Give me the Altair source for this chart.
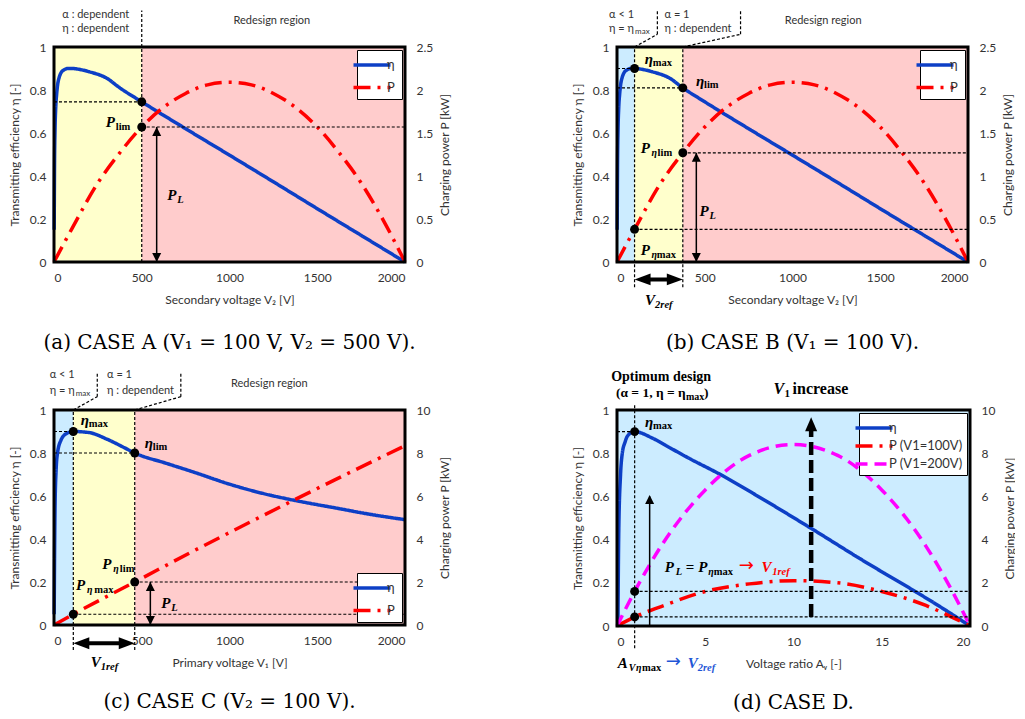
import altair as alt
import pandas as pd

# ---------------- colours / fonts ----------------
BLUE = "#0D3FC6"
RED = "#FF0000"
MAG = "#FF00FF"
PINK = "#FFCCCC"
YEL = "#FFFFCC"
LBLUE = "#CCECFF"
TXT = "#333333"
TBLUE = "#1F56D6"
SANS = "Lato"
SERIF = "Liberation Serif"
CAPFONT = "DejaVu Serif"

# ---------------- data ----------------
# CASE A / B : V1 = 100 V, secondary voltage V2 swept
V2_ETA = [1, 3, 6, 10, 15, 20, 30, 40, 60, 80, 100, 150, 200, 300, 375, 500, 750, 1000, 1250, 1500, 1750, 2000]
ETA_V2 = [0.15, 0.45, 0.62, 0.72, 0.78, 0.82, 0.86, 0.88, 0.895, 0.9, 0.9, 0.895, 0.885, 0.855, 0.81, 0.745,
          0.62, 0.497, 0.373, 0.248, 0.124, 0.0]
V2_P = [0, 100, 250, 375, 500, 625, 750, 875, 1000, 1125, 1250, 1375, 1500, 1625, 1750, 1875, 2000]
P_V2 = [0, 0.38, 0.92, 1.27, 1.57, 1.80, 1.96, 2.06, 2.09, 2.06, 1.96, 1.80, 1.57, 1.27, 0.92, 0.49, 0]

# CASE C : V2 = 100 V, primary voltage V1 swept
V1_ETA = [1, 3, 6, 12, 20, 40, 70, 110, 200, 300, 400, 460, 640, 800, 1000, 1200, 1400, 1600, 1800, 2000]
ETA_V1 = [0.05, 0.3, 0.55, 0.72, 0.8, 0.86, 0.89, 0.9, 0.895, 0.865, 0.825, 0.80, 0.752, 0.71, 0.655,
          0.61, 0.575, 0.545, 0.515, 0.49]
V1_P = [0, 110, 460, 825, 1000, 1367, 1600, 2000]
P_V1 = [0, 0.5, 2.0, 3.57, 4.3, 5.81, 6.75, 8.34]

# CASE D : voltage ratio Av swept
AV_ETA = [0.05, 0.1, 0.2, 0.3, 0.45, 0.6, 1.0, 2.0, 3.0, 4.0, 6.0, 8.0, 11.0, 14.0, 16.75, 18.0, 20.0]
ETA_AV = [0.0, 0.44, 0.7, 0.8, 0.85, 0.88, 0.9, 0.87, 0.825, 0.78, 0.695, 0.6, 0.452, 0.3, 0.167, 0.105, 0.0]
AV_P = [0, 1, 2.5, 5, 7.5, 10, 12.5, 15, 17.5, 19, 20]
P_100 = [0, 0.42, 0.9, 1.6, 1.95, 2.1, 2.0, 1.6, 0.95, 0.4, 0]
P_200 = [0, 1.6, 3.7, 6.3, 7.9, 8.4, 7.9, 6.3, 3.7, 1.6, 0]

# marked operating points
A_PT = (500, 0.745, 1.57)                  # V2, eta, P
B_PTS = [(100, 0.9, 0.38), (375, 0.81, 1.27)]
C_PTS = [(110, 0.9, 0.5), (460, 0.8, 2.0)]
D_PT = (1, 0.9, 0.42, 1.6)                 # Av, eta, P(100V), P(200V)

CAPTIONS = ["(a) CASE A (V₁ = 100 V, V₂ = 500 V).", "(b) CASE B (V₁ = 100 V).",
            "(c) CASE C (V₂ = 100 V).", "(d) CASE D."]

ETA_DOM = [0, 1]
W, H = 351, 215

UP = "M0,0L-0.5,1L0.5,1Z"
DOWN = "M0,0L-0.5,-1L0.5,-1Z"
LEFT = "M0,0L1,-0.37L1,0.37Z"
RIGHT = "M0,0L-1,-0.37L-1,0.37Z"
UPBIG = "M0,0L-0.43,1L0.43,1Z"
LEG_SYM = "M-2,0L2,0"

CUR = {"xaxis": None}


def X(field, dom):
    return alt.X(f"{field}:Q", scale=alt.Scale(domain=dom, nice=False, zero=False), axis=CUR["xaxis"])


def Y(field, dom, axis=None):
    return alt.Y(f"{field}:Q", scale=alt.Scale(domain=dom, nice=False, zero=False), axis=axis)


def left_axis():
    return alt.Axis(orient="left", values=[0, 0.2, 0.4, 0.6, 0.8, 1], format="~r",
                    title="Transmitting efficiency η [-]", labelPadding=8, titlePadding=8)


def right_axis(vals, h=H):
    return alt.Axis(orient="right", values=vals, format="~r", title="Charging power P [kW]",
                    labelPadding=11, titleAngle=270, titleX=39, titleY=h / 2,
                    titleAlign="center", titleBaseline="middle")


def bottom_axis(vals, title):
    return alt.Axis(orient="bottom", values=vals, format="~r", title=title, labelPadding=10, titlePadding=11)


def background(regions, xdom):
    df = pd.DataFrame(regions, columns=["x", "x2", "c"])
    df["y"] = 0
    df["y2"] = 1
    return alt.Chart(df).mark_rect(opacity=1, strokeWidth=0).encode(
        x=X("x", xdom), x2="x2:Q", y=Y("y", ETA_DOM), y2="y2:Q",
        color=alt.Color("c:N", scale=None))


def frame(xdom):
    df = pd.DataFrame({"x": [xdom[0]], "x2": [xdom[1]], "y": [0], "y2": [1]})
    return alt.Chart(df).mark_rect(fillOpacity=0, stroke="black", strokeWidth=3).encode(
        x=X("x", xdom), x2="x2:Q", y=Y("y", ETA_DOM), y2="y2:Q")


def curves(series, xdom, ydom, names, colors, dashes, legend, yaxis=None):
    rows = []
    for name, xs, ys in series:
        for a, b in zip(xs, ys):
            rows.append({"x": a, "y": b, "s": name})
    df = pd.DataFrame(rows)
    return alt.Chart(df).mark_line(strokeWidth=3.5, interpolate="monotone").encode(
        x=X("x", xdom), y=Y("y", ydom, yaxis),
        color=alt.Color("s:N", scale=alt.Scale(domain=names, range=colors), legend=legend),
        strokeDash=alt.StrokeDash("s:N", scale=alt.Scale(domain=names, range=dashes), legend=legend),
        detail="s:N")


def segs(rows, xdom, ydom, width=1.2, dash=(3, 2), color="black"):
    df = pd.DataFrame(rows, columns=["x", "x2", "y", "y2"])
    kw = dict(color=color, strokeWidth=width)
    if dash:
        kw["strokeDash"] = list(dash)
    return alt.Chart(df).mark_rule(**kw).encode(
        x=X("x", xdom), x2="x2:Q", y=Y("y", ydom), y2="y2:Q")


def dots(pts, xdom, ydom):
    df = pd.DataFrame(pts, columns=["x", "y"])
    return alt.Chart(df).mark_circle(size=80, color="black", opacity=1).encode(
        x=X("x", xdom), y=Y("y", ydom))


def head(x, y, shape, size, xdom, ydom):
    df = pd.DataFrame({"x": [x], "y": [y]})
    return alt.Chart(df).mark_point(shape=shape, size=size, filled=True, color="black",
                                    opacity=1, strokeWidth=0).encode(x=X("x", xdom), y=Y("y", ydom))


def tx(x, y, t, xdom, dx=0, dy=0, size=15, style="normal", weight="bold", color="black",
       font=SERIF, align="left", baseline="alphabetic"):
    df = pd.DataFrame({"x": [x], "y": [y], "t": [t]})
    return alt.Chart(df).mark_text(dx=dx, dy=dy, fontSize=size, fontStyle=style, fontWeight=weight,
                                   color=color, font=font, align=align, baseline=baseline).encode(
        x=X("x", xdom), y=Y("y", ETA_DOM), text="t:N")


def mlabel(x, y, parts, xdom):
    out = []
    for p in parts:
        t, dx, dy, size, style, weight = p[:6]
        c = p[6] if len(p) > 6 else "black"
        f = p[7] if len(p) > 7 else SERIF
        out.append(tx(x, y, t, xdom, dx, dy, size, style, weight, c, f))
    return out


def note(x, y, t, xdom, align="left"):
    return tx(x, y, t, xdom, size=11, weight="normal", color=TXT, font=SANS, align=align, baseline="middle")


def sub_note(x, y, main, sub, dxs, xdom):
    return [tx(x, y, main, xdom, size=11, weight="normal", color=TXT, font=SANS, baseline="middle"),
            tx(x, y, sub, xdom, dx=dxs, dy=3, size=8, weight="normal", color=TXT, font=SANS, baseline="middle")]


def caption(t, xdom, y):
    return tx((xdom[0] + xdom[1]) / 2, y, t, xdom, size=20, weight="normal", font=CAPFONT,
              align="center", baseline="middle")


def P_sub(sub, sub_it=False, eta=False, dxe=10.7, dxs=16.7):
    parts = [("P", 0, 0, 15, "italic", "bold")]
    if eta:
        parts.append(("η", dxe, 3, 10, "italic", "bold"))
        parts.append((sub, dxs, 3, 10.5, "normal", "bold"))
    else:
        parts.append((sub, 10, 3, 10.5, "italic" if sub_it else "normal", "bold"))
    return parts


def eta_sub(sub):
    return [("η", 0, 0, 15, "italic", "bold"), (sub, 8, 2, 10.5, "normal", "bold")]


def legend(orient, rowpad):
    return alt.Legend(orient=orient, title=None, rowPadding=rowpad)


DASH_PD = [17, 7, 3, 7]
NAMES2 = ["η", "P"]
CAP_TOP = -0.377
CAP_BOT = -0.357


# ---------------- panel A ----------------
def panel_a():
    CUR["xaxis"] = bottom_axis([0, 500, 1000, 1500, 2000], "Secondary voltage V₂ [V]")
    xd = [0, 2000]
    pd_ = [0, 2.5]
    lg = legend("top-right", 4.5)
    v, e, p = A_PT
    eta_c = curves([("η", V2_ETA, ETA_V2)], xd, ETA_DOM, NAMES2, [BLUE, RED], [[1, 0], DASH_PD], lg,
                   yaxis=left_axis())
    p_c = curves([("P", V2_P, P_V2)], xd, pd_, NAMES2, [BLUE, RED], [[1, 0], DASH_PD], lg,
                 yaxis=right_axis([0, 0.5, 1, 1.5, 2, 2.5]))
    ann_e = alt.layer(
        segs([(0, v, e, e), (v, v, 0, 1.17)], xd, ETA_DOM),
        dots([(v, e)], xd, ETA_DOM),
        note(238, 1.15, "α : dependent", xd, "center"),
        note(238, 1.084, "η : dependent", xd, "center"),
        note(1241, 1.12, "Redesign region", xd, "center"),
        *mlabel(295, 0.628, P_sub("lim"), xd),
        *mlabel(646, 0.29, P_sub("L", sub_it=True), xd),
        caption(CAPTIONS[0], xd, CAP_TOP),
    )
    ann_p = alt.layer(
        segs([(v, 2000, p, p)], xd, pd_),
        segs([(585, 585, 0, p)], xd, pd_, width=1.5, dash=None),
        dots([(v, p)], xd, pd_),
        head(585, p, UP, 324, xd, pd_),
        head(585, 0, DOWN, 324, xd, pd_),
    )
    bg = background([(0, 500, YEL), (500, 2000, PINK)], xd)
    return alt.layer(bg, eta_c, p_c, ann_e, ann_p, frame(xd)).resolve_scale(y="independent").properties(
        width=W, height=H)


# ---------------- panel B ----------------
def panel_b():
    CUR["xaxis"] = bottom_axis([0, 500, 1000, 1500, 2000], "Secondary voltage V₂ [V]")
    xd = [0, 2000]
    pd_ = [0, 2.5]
    lg = legend("top-right", 4.5)
    (v1, e1, p1), (v2, e2, p2) = B_PTS
    eta_c = curves([("η", V2_ETA, ETA_V2)], xd, ETA_DOM, NAMES2, [BLUE, RED], [[1, 0], DASH_PD], lg,
                   yaxis=left_axis())
    p_c = curves([("P", V2_P, P_V2)], xd, pd_, NAMES2, [BLUE, RED], [[1, 0], DASH_PD], lg,
                 yaxis=right_axis([0, 0.5, 1, 1.5, 2, 2.5]))
    ann_e = alt.layer(
        segs([(0, v1, e1, e1), (0, v2, e2, e2),
              (v1, v1, -0.117, 1.0), (v1, 230, 1.0, 1.059), (230, 230, 1.059, 1.17),
              (v2, v2, -0.117, 1.0), (v2, 704, 1.0, 1.059), (704, 704, 1.059, 1.17)], xd, ETA_DOM),
        segs([(v1 + 40, v2 - 40, -0.081, -0.081)], xd, ETA_DOM, width=4, dash=None),
        head(v1, -0.081, LEFT, 1024, xd, ETA_DOM),
        head(v2, -0.081, RIGHT, 1024, xd, ETA_DOM),
        dots([(v1, e1), (v2, e2)], xd, ETA_DOM),
        note(-45, 1.15, "α < 1", xd),
        *sub_note(-45, 1.084, "η = η", "max", 26, xd),
        note(271, 1.15, "α = 1", xd),
        note(271, 1.084, "η : dependent", xd),
        note(1175, 1.12, "Redesign region", xd, "center"),
        *mlabel(158, 0.92, eta_sub("max"), xd),
        *mlabel(450, 0.818, eta_sub("lim"), xd),
        *mlabel(136, 0.506, P_sub("lim", eta=True), xd),
        *mlabel(470, 0.213, P_sub("L", sub_it=True), xd),
        *mlabel(136, 0.034, P_sub("max", eta=True, dxs=16), xd),
        *mlabel(160, -0.2, [("V", 0, 0, 15, "italic", "bold"), ("2ref", 10, 3, 10.5, "italic", "bold")], xd),
        caption(CAPTIONS[1], xd, CAP_TOP),
    )
    ann_p = alt.layer(
        segs([(v2, 2000, p2, p2), (v1, 2000, p1, p1)], xd, pd_),
        segs([(452, 452, 0, p2)], xd, pd_, width=1.5, dash=None),
        dots([(v1, p1), (v2, p2)], xd, pd_),
        head(452, p2, UP, 324, xd, pd_),
        head(452, 0, DOWN, 324, xd, pd_),
    )
    bg = background([(0, v1, LBLUE), (v1, v2, YEL), (v2, 2000, PINK)], xd)
    return alt.layer(bg, eta_c, p_c, ann_e, ann_p, frame(xd)).resolve_scale(y="independent").properties(
        width=W, height=H)


# ---------------- panel C ----------------
def panel_c():
    CUR["xaxis"] = bottom_axis([0, 500, 1000, 1500, 2000], "Primary voltage V₁ [V]")
    xd = [0, 2000]
    pd_ = [0, 10]
    lg = legend("bottom-right", 4.5)
    (v1, e1, p1), (v2, e2, p2) = C_PTS
    eta_c = curves([("η", V1_ETA, ETA_V1)], xd, ETA_DOM, NAMES2, [BLUE, RED], [[1, 0], DASH_PD], lg,
                   yaxis=left_axis())
    p_c = curves([("P", V1_P, P_V1)], xd, pd_, NAMES2, [BLUE, RED], [[1, 0], DASH_PD], lg,
                 yaxis=right_axis([0, 2, 4, 6, 8, 10]))
    ann_e = alt.layer(
        segs([(0, v1, e1, e1), (0, v2, e2, e2),
              (v1, v1, -0.116, 1.0), (v1, 246.5, 1.0, 1.062), (246.5, 246.5, 1.062, 1.178),
              (v2, v2, -0.116, 1.0), (v2, 722.7, 1.0, 1.062), (722.7, 722.7, 1.062, 1.178)], xd, ETA_DOM),
        segs([(v1 + 40, v2 - 40, -0.085, -0.085)], xd, ETA_DOM, width=4, dash=None),
        head(v1, -0.085, LEFT, 1024, xd, ETA_DOM),
        head(v2, -0.085, RIGHT, 1024, xd, ETA_DOM),
        dots([(v1, e1), (v2, e2)], xd, ETA_DOM),
        note(-24, 1.163, "α < 1", xd),
        *sub_note(-24, 1.09, "η = η", "max", 26, xd),
        note(302.5, 1.163, "α = 1", xd),
        note(302.5, 1.09, "η : dependent", xd),
        note(1227, 1.12, "Redesign region", xd, "center"),
        *mlabel(153, 0.93, eta_sub("max"), xd),
        *mlabel(517, 0.822, eta_sub("lim"), xd),
        *mlabel(274.5, 0.259, P_sub("lim", eta=True, dxe=11, dxs=17.7), xd),
        *mlabel(125, 0.163, P_sub("max", eta=True, dxe=11, dxs=18.3), xd),
        *mlabel(610.6, 0.078, P_sub("L", sub_it=True), xd),
        *mlabel(209, -0.194, [("V", 0, 0, 15, "italic", "bold"), ("1ref", 10, 3, 10.5, "italic", "bold")], xd),
        caption(CAPTIONS[2], xd, CAP_BOT),
    )
    ann_p = alt.layer(
        segs([(v2, 2000, p2, p2), (v1, 2000, p1, p1)], xd, pd_),
        segs([(549, 549, 0, p2)], xd, pd_, width=1.5, dash=None),
        dots([(v1, p1), (v2, p2)], xd, pd_),
        head(549, p2, UP, 324, xd, pd_),
        head(549, 0, DOWN, 324, xd, pd_),
    )
    bg = background([(0, v1, LBLUE), (v1, v2, YEL), (v2, 2000, PINK)], xd)
    return alt.layer(bg, eta_c, p_c, ann_e, ann_p, frame(xd)).resolve_scale(y="independent").properties(
        width=W, height=H)


# ---------------- panel D ----------------
def panel_d():
    CUR["xaxis"] = bottom_axis([0, 5, 10, 15, 20], "Voltage ratio Aᵥ [-]")
    xd = [0, 20]
    pd_ = [0, 10]
    names = ["η", "P (V1=100V)", "P (V1=200V)"]
    cols = [BLUE, RED, MAG]
    dsh = [[1, 0], DASH_PD, [12, 7]]
    lg = legend("top-right", -3)
    a, e, pl, ph = D_PT
    eta_c = curves([("η", AV_ETA, ETA_AV)], xd, ETA_DOM, names, cols, dsh, lg, yaxis=left_axis())
    p_c = curves([("P (V1=100V)", AV_P, P_100), ("P (V1=200V)", AV_P, P_200)], xd, pd_, names, cols, dsh, lg,
                 yaxis=right_axis([0, 2, 4, 6, 8, 10], H + 1))
    ann_e = alt.layer(
        segs([(0, a, e, e), (a, a, -0.103, 1.03)], xd, ETA_DOM),
        dots([(a, e)], xd, ETA_DOM),
        tx(2.5, 1.154, "Optimum design", xd, size=14, align="center", baseline="middle"),
        tx(-0.06, 1.058, "(α = 1, η = η", xd, size=13.5),
        tx(-0.06, 1.058, "max", xd, dx=70, dy=3, size=10),
        tx(-0.06, 1.058, ")", xd, dx=88, size=13.5),
        *mlabel(8.87, 1.073, [("V", 0, 0, 16, "italic", "bold"), ("1", 11, 3, 11, "normal", "bold"),
                              ("increase", 19, 0, 16, "normal", "bold")], xd),
        *mlabel(1.59, 0.923, eta_sub("max"), xd),
        *mlabel(2.71, 0.251, [("P", 0, 0, 15, "italic", "bold"), ("L", 11, 3, 10.5, "italic", "bold"),
                              ("=", 21, 0, 15, "normal", "bold"), ("P", 33.4, 0, 15, "italic", "bold"),
                              ("η", 43.4, 3, 10, "italic", "bold"), ("max", 49, 3, 10.5, "normal", "bold"),
                              ("→", 74, -1, 18, "normal", "normal", RED, "DejaVu Sans"),
                              ("V", 96.7, 0, 15, "italic", "bold", RED),
                              ("1ref", 107.4, 3, 10.5, "italic", "bold", RED)], xd),
        *mlabel(0.04, -0.196, [("A", 0, 0, 15, "italic", "bold"), ("V", 11, 3, 10, "italic", "bold"),
                               ("η", 18.3, 3, 10, "italic", "bold"), ("max", 24.3, 3, 10.5, "normal", "bold"),
                               ("→", 48, -1, 18, "normal", "normal", TBLUE, "DejaVu Sans"),
                               ("V", 70, 0, 15, "italic", "bold", TBLUE),
                               ("2ref", 80, 3, 10.5, "italic", "bold", TBLUE)], xd),
        caption(CAPTIONS[3], xd, CAP_BOT),
    )
    ann_p = alt.layer(
        segs([(a, 20, ph, ph), (a, 20, pl, pl)], xd, pd_),
        segs([(1.85, 1.85, 0, 6.0)], xd, pd_, width=1.5, dash=None),
        head(1.85, 6.06, UP, 324, xd, pd_),
        segs([(11, 11, pl, 9.2)], xd, pd_, width=4.5, dash=(13, 5)),
        head(11, 9.66, UPBIG, 784, xd, pd_),
        dots([(a, pl), (a, ph)], xd, pd_),
    )
    bg = background([(0, 20, LBLUE)], xd)
    return alt.layer(bg, eta_c, p_c, ann_e, ann_p, frame(xd)).resolve_scale(y="independent").properties(
        width=W + 2, height=H + 1)


chart = alt.concat(panel_a(), panel_b(), panel_c(), panel_d(), columns=2,
                   spacing={"row": 14, "column": 121}).resolve_scale(
    color="independent", strokeDash="independent").properties(
    padding={"left": 0, "top": 0, "right": 0, "bottom": 0}
).configure_view(strokeWidth=0).configure_axis(
    labelFont=SANS, labelFontSize=12, labelColor=TXT, titleFont=SANS, titleFontSize=12,
    titleColor=TXT, titleFontWeight="normal", ticks=False, domain=False, grid=False
).configure_legend(
    fillColor="white", strokeColor="black", padding=4, offset=3, symbolType=LEG_SYM,
    symbolSize=342, symbolStrokeWidth=3.5, labelFont=SANS, labelFontSize=13, labelColor=TXT,
    labelOffset=4
)

chart.save("out.html", embed_options={"renderer": "svg", "actions": False})
